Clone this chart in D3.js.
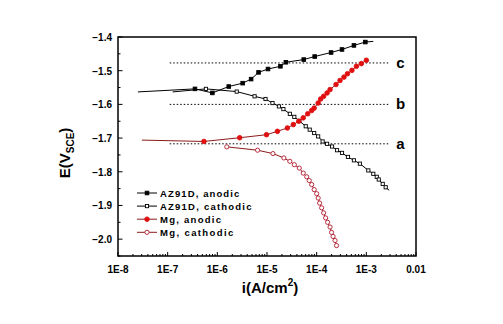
<!DOCTYPE html>
<html>
<head>
<meta charset="utf-8">
<script src="https://cdn.jsdelivr.net/npm/d3@7"></script>
<style>
body { margin:0; background:#fff; }
text { font-family: Arial, "Liberation Sans", sans-serif; font-weight:bold; }
</style>
</head>
<body>
<script>
// log10(i), E pairs
var az_anodic_logi = [-7.6, -6.45, -6.1, -5.77, -5.49, -5.32, -5.17, -4.98, -4.73, -4.62, -4.26, -4.04, -3.71, -3.49, -3.25, -3.02, -2.86];
var az_anodic_E    = [-1.563, -1.554, -1.566, -1.547, -1.537, -1.525, -1.505, -1.495, -1.487, -1.475, -1.467, -1.458, -1.446, -1.437, -1.425, -1.415, -1.413];
var az_anodic_mark = [false, true, true, true, true, true, true, true, true, true, true, true, true, true, true, true, false];

var az_cath_logi = [-6.9, -6.23, -5.61, -5.25, -5.03, -4.89, -4.76, -4.67, -4.54, -4.45, -4.35, -4.22, -4.14, -4.05, -3.97, -3.88, -3.79, -3.69, -3.59, -3.49, -3.37, -3.25, -3.13, -2.96, -2.86, -2.79, -2.75, -2.67, -2.61, -2.54];
var az_cath_E    = [-1.563, -1.554, -1.562, -1.576, -1.584, -1.596, -1.606, -1.614, -1.628, -1.637, -1.649, -1.665, -1.675, -1.685, -1.695, -1.71, -1.717, -1.725, -1.736, -1.744, -1.756, -1.766, -1.776, -1.796, -1.806, -1.815, -1.823, -1.836, -1.846, -1.855];
var az_cath_mark = [false, true, true, true, true, true, true, true, true, true, true, true, true, true, true, true, true, true, true, true, true, true, true, true, true, true, true, true, true, false];

var mg_anodic_logi = [-7.52, -6.27, -5.55, -5.01, -4.79, -4.59, -4.47, -4.36, -4.27, -4.18, -4.1, -4.05, -3.97, -3.92, -3.86, -3.79, -3.73, -3.61, -3.53, -3.45, -3.38, -3.29, -3.2, -3.1, -3.0];
var mg_anodic_E    = [-1.706, -1.71, -1.699, -1.69, -1.68, -1.67, -1.66, -1.65, -1.64, -1.628, -1.618, -1.611, -1.596, -1.584, -1.576, -1.566, -1.556, -1.541, -1.529, -1.519, -1.509, -1.499, -1.487, -1.479, -1.469];
var mg_anodic_mark = [false, true, true, true, true, true, true, true, true, true, true, true, true, true, true, true, true, true, true, true, true, true, true, true, true];

var mg_cath_logi = [-5.81, -5.19, -4.88, -4.66, -4.54, -4.45, -4.35, -4.27, -4.2, -4.15, -4.1, -4.05, -4.0, -3.97, -3.94, -3.9, -3.86, -3.82, -3.78, -3.73, -3.7, -3.67, -3.63, -3.6, -3.59];
var mg_cath_E    = [-1.726, -1.736, -1.746, -1.759, -1.769, -1.779, -1.789, -1.804, -1.815, -1.826, -1.838, -1.853, -1.865, -1.878, -1.893, -1.907, -1.922, -1.937, -1.95, -1.964, -1.98, -1.992, -2.004, -2.019, -2.026];
var mg_cath_mark = [true, true, true, true, true, true, true, true, true, true, true, true, true, true, true, true, true, true, true, true, true, true, true, true, false];

var ref_names = ["c", "b", "a"];
var ref_E = [-1.477, -1.6, -1.717];
var ref_from = 1.1e-7, ref_to = 2.8e-3;

var legend_names = ["AZ91D, anodic", "AZ91D, cathodic", "Mg, anodic", "Mg, cathodic"];
var x_ticks = [1e-8, 1e-7, 1e-6, 1e-5, 1e-4, 1e-3, 1e-2];
var x_tick_labels = ["1E-8", "1E-7", "1E-6", "1E-5", "1E-4", "1E-3", "0.01"];
var y_ticks = [-1.4, -1.5, -1.6, -1.7, -1.8, -1.9, -2.0];

var margin = {top:37, left:118, bottom:68, right:87};
var totalWidth = 503;
var totalHeight = 324;
var width = totalWidth - margin.left - margin.right;
var height = totalHeight - margin.top - margin.bottom;

var x = d3.scaleLog().domain([1e-8, 1e-2]).range([0, width]);
var y = d3.scaleLinear().domain([-2.05, -1.4]).range([height, 0]);

var svg = d3.select("body").append("svg")
  .attr("width", totalWidth)
  .attr("height", totalHeight)
  .append("g")
  .attr("transform", "translate(" + margin.left + "," + margin.top + ")");

function pts(logi, E, mark) {
  var out = [];
  for (var i = 0; i < logi.length; i++) out.push({i: Math.pow(10, logi[i]), E: E[i], m: mark[i]});
  return out;
}

var series = [
  {name: legend_names[0], data: pts(az_anodic_logi, az_anodic_E, az_anodic_mark), line: "#000", shape: "square", fill: "#000", stroke: "#000"},
  {name: legend_names[1], data: pts(az_cath_logi, az_cath_E, az_cath_mark), line: "#000", shape: "square", fill: "#fff", stroke: "#000"},
  {name: legend_names[2], data: pts(mg_anodic_logi, mg_anodic_E, mg_anodic_mark), line: "#8b1a1a", shape: "circle", fill: "#e01010", stroke: "#e01010"},
  {name: legend_names[3], data: pts(mg_cath_logi, mg_cath_E, mg_cath_mark), line: "#8b1a1a", shape: "circle", fill: "#fff", stroke: "#b01c2c"}
];

// reference lines
ref_names.forEach(function(n, k) {
  svg.append("line")
    .attr("x1", x(ref_from)).attr("x2", x(ref_to))
    .attr("y1", y(ref_E[k])).attr("y2", y(ref_E[k]))
    .attr("stroke", "#000").attr("stroke-width", 1)
    .attr("stroke-dasharray", "1.5,2");
  svg.append("text")
    .attr("x", x(ref_to) + 12).attr("y", y(ref_E[k]) + 5)
    .attr("font-family", "Liberation Serif, serif")
    .attr("font-size", 15)
    .attr("text-anchor", "middle")
    .text(n);
});

var line = d3.line().x(function(d) { return x(d.i); }).y(function(d) { return y(d.E); });

function drawMarker(g, s, cx, cy) {
  if (s.shape == "square") {
    var sz = s.fill == "#000" ? 3.6 : 3.2;
    g.append("rect").attr("x", cx - sz/2).attr("y", cy - sz/2)
      .attr("width", sz).attr("height", sz)
      .attr("fill", s.fill).attr("stroke", s.stroke).attr("stroke-width", 0.9);
  } else {
    g.append("circle").attr("cx", cx).attr("cy", cy).attr("r", s.fill == "#fff" ? 2.1 : 2.3)
      .attr("fill", s.fill).attr("stroke", s.stroke).attr("stroke-width", 0.9);
  }
}

series.forEach(function(s) {
  svg.append("path").datum(s.data)
    .attr("d", line).attr("fill", "none")
    .attr("stroke", s.line).attr("stroke-width", 1);
  var g = svg.append("g");
  s.data.forEach(function(d) {
    if (d.m) drawMarker(g, s, x(d.i), y(d.E));
  });
});

// frame
svg.append("rect").attr("width", width).attr("height", height)
  .attr("fill", "none").attr("stroke", "#000").attr("stroke-width", 1.5);

// x axis
var xg = svg.append("g").attr("transform", "translate(0," + height + ")");
var minors = [];
for (var e = -8; e < -2; e++) for (var m = 2; m <= 9; m++) minors.push(m * Math.pow(10, e));
xg.selectAll(".minor").data(minors).enter().append("line")
  .attr("x1", function(d) { return x(d); }).attr("x2", function(d) { return x(d); })
  .attr("y1", 0).attr("y2", -2).attr("stroke", "#000");
xg.selectAll(".major").data(x_ticks).enter().append("line")
  .attr("x1", function(d) { return x(d); }).attr("x2", function(d) { return x(d); })
  .attr("y1", 0).attr("y2", -4).attr("stroke", "#000");
xg.selectAll(".lab").data(x_ticks).enter().append("text")
  .attr("x", function(d) { return x(d); }).attr("y", 17)
  .attr("text-anchor", "middle").attr("font-size", 10)
  .text(function(d, k) { return x_tick_labels[k]; });

// y axis
var yg = svg.append("g");
var yminor = [];
for (var v = 0; v < y_ticks.length; v++) yminor.push(y_ticks[v] - 0.05);
yg.selectAll(".minor").data(yminor).enter().append("line")
  .attr("x1", 0).attr("x2", 2.5)
  .attr("y1", function(d) { return y(d); }).attr("y2", function(d) { return y(d); })
  .attr("stroke", "#000");
yg.selectAll(".major").data(y_ticks).enter().append("line")
  .attr("x1", 0).attr("x2", 4.5)
  .attr("y1", function(d) { return y(d); }).attr("y2", function(d) { return y(d); })
  .attr("stroke", "#000");
yg.selectAll(".lab").data(y_ticks).enter().append("text")
  .attr("x", -6).attr("y", function(d) { return y(d) + 4; })
  .attr("text-anchor", "end").attr("font-size", 10)
  .text(function(d) { return d3.format(".1f")(d); });

// axis titles
var xl = svg.append("text")
  .attr("x", 152).attr("y", 256)
  .attr("text-anchor", "middle").attr("font-size", 15);
xl.append("tspan").text("i(A/cm");
xl.append("tspan").attr("font-size", 10).attr("dy", -7).text("2");
xl.append("tspan").attr("dy", 7).text(")");

var yl = svg.append("text")
  .attr("transform", "translate(-48,116) rotate(-90)")
  .attr("text-anchor", "middle").attr("font-size", 15);
yl.append("tspan").text("E(V");
yl.append("tspan").attr("font-size", 10).attr("dy", 4).text("SCE");
yl.append("tspan").attr("dy", -4).text(")");

// legend
var lg = svg.append("g").attr("transform", "translate(19,156)");
series.forEach(function(s, k) {
  var ly = k * 13.1;
  lg.append("line").attr("x1", 0).attr("x2", 20).attr("y1", ly).attr("y2", ly)
    .attr("stroke", s.line).attr("stroke-width", 1);
  drawMarker(lg, s, 10, ly);
  lg.append("text").attr("x", 23).attr("y", ly + 3.5)
    .attr("font-size", 9.5).attr("textLength", s.name.length * 6.1)
    .text(s.name);
});
</script>
</body>
</html>
